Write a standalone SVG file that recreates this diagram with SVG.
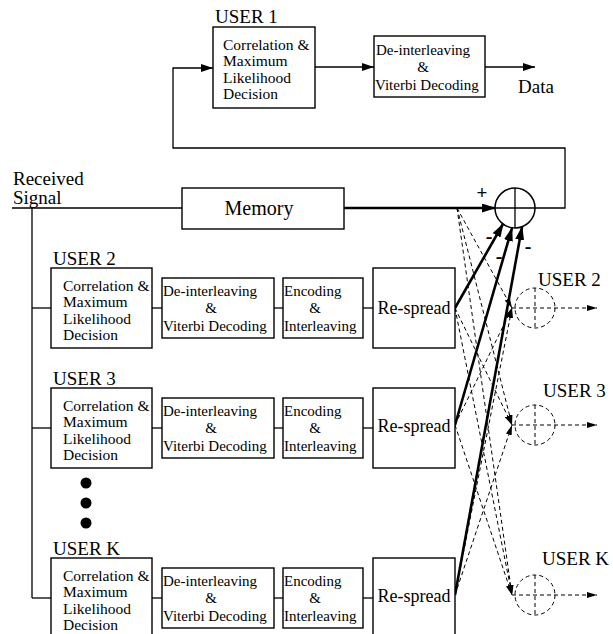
<svg xmlns="http://www.w3.org/2000/svg" width="613" height="634" viewBox="0 0 613 634">
<style>
text{font-family:"Liberation Serif","DejaVu Serif",serif;fill:#000}
.box{fill:#fff;stroke:#000;stroke-width:1.4}
.t{font-size:15.5px}
.s{font-size:15px}
.lbl{font-size:19px}
.mid{text-anchor:middle}
.ln{fill:none;stroke:#000;stroke-width:1.3}
.thk{fill:none;stroke:#000;stroke-width:2.6}
.dsh{fill:none;stroke:#000;stroke-width:1;stroke-dasharray:4 3}
.mn{font-size:20px;font-weight:bold;text-anchor:middle}
</style>
<defs>
<marker id="ah" markerUnits="userSpaceOnUse" markerWidth="12" markerHeight="8" refX="12" refY="4" orient="auto"><path d="M0,0 L12,4 L0,8 z"/></marker>
<marker id="ahk" markerUnits="userSpaceOnUse" markerWidth="14" markerHeight="9" refX="13" refY="4.5" orient="auto"><path d="M0,0 L14,4.5 L0,9 z"/></marker>
<marker id="ahd" markerUnits="userSpaceOnUse" markerWidth="10" markerHeight="6" refX="10" refY="3" orient="auto"><path d="M0,0 L10,3 L0,6 z"/></marker>
</defs>

<g id="connectors">
  <path class="ln" d="M535,208 H565 V148 H173 V68 H213" marker-end="url(#ah)"/>
  <line class="ln" x1="315" y1="67" x2="374" y2="67" marker-end="url(#ah)"/>
  <line class="ln" x1="485" y1="67" x2="535" y2="67" marker-end="url(#ah)"/>
  <line class="ln" x1="12" y1="208" x2="182" y2="208"/>
  <line class="ln" x1="32" y1="208" x2="32" y2="598"/>
  <line class="thk" x1="344" y1="208" x2="495" y2="208" marker-end="url(#ahk)"/>
  <line class="ln" x1="32" y1="308" x2="51" y2="308"/>
  <line class="ln" x1="152" y1="308" x2="162" y2="308"/>
  <line class="ln" x1="274" y1="308" x2="283" y2="308"/>
  <line class="ln" x1="363" y1="308" x2="373" y2="308"/>
  <line class="ln" x1="32" y1="428" x2="51" y2="428"/>
  <line class="ln" x1="152" y1="428" x2="162" y2="428"/>
  <line class="ln" x1="274" y1="428" x2="283" y2="428"/>
  <line class="ln" x1="363" y1="428" x2="373" y2="428"/>
  <line class="ln" x1="32" y1="598" x2="51" y2="598"/>
  <line class="ln" x1="152" y1="598" x2="162" y2="598"/>
  <line class="ln" x1="274" y1="598" x2="283" y2="598"/>
  <line class="ln" x1="363" y1="598" x2="373" y2="598"/>
  <line class="thk" x1="455" y1="308" x2="503" y2="224" marker-end="url(#ahk)"/>
  <line class="thk" x1="455" y1="425" x2="512" y2="228" marker-end="url(#ahk)"/>
  <line class="thk" x1="455" y1="595" x2="522" y2="227" marker-end="url(#ahk)"/>
  <line class="dsh" x1="457" y1="208" x2="512" y2="308" marker-end="url(#ahd)"/>
  <line class="dsh" x1="457" y1="208" x2="512" y2="425" marker-end="url(#ahd)"/>
  <line class="dsh" x1="457" y1="208" x2="512" y2="595" marker-end="url(#ahd)"/>
  <line class="dsh" x1="455" y1="308" x2="512" y2="425" marker-end="url(#ahd)"/>
  <line class="dsh" x1="455" y1="308" x2="512" y2="595" marker-end="url(#ahd)"/>
  <line class="dsh" x1="455" y1="425" x2="512" y2="308" marker-end="url(#ahd)"/>
  <line class="dsh" x1="455" y1="425" x2="512" y2="595" marker-end="url(#ahd)"/>
  <line class="dsh" x1="455" y1="595" x2="512" y2="308" marker-end="url(#ahd)"/>
  <line class="dsh" x1="455" y1="595" x2="512" y2="425" marker-end="url(#ahd)"/>
  <line class="dsh" x1="512" y1="308" x2="597" y2="308" marker-end="url(#ahd)"/>
  <line class="dsh" x1="512" y1="425" x2="597" y2="425" marker-end="url(#ahd)"/>
  <line class="dsh" x1="512" y1="595" x2="597" y2="595" marker-end="url(#ahd)"/>
</g>

<g id="input">
  <text class="lbl" x="13" y="185">Received</text>
  <text class="lbl" x="13" y="204">Signal</text>
</g>

<g id="user1-corr">
  <text class="lbl" x="215" y="23">USER 1</text>
  <rect class="box" x="213" y="27" width="102" height="81"/>
  <text class="t" x="223" y="50">Correlation &amp;</text>
  <text class="t" x="223" y="66">Maximum</text>
  <text class="t" x="223" y="83">Likelihood</text>
  <text class="t" x="223" y="99">Decision</text>
</g>
<g id="user1-deint">
  <rect class="box" x="374" y="36" width="111" height="61"/>
  <text class="s" x="376" y="55">De-interleaving</text>
  <text class="s mid" x="423" y="72">&amp;</text>
  <text class="s" x="375" y="90">Viterbi Decoding</text>
</g>
<g id="data"><text class="lbl" x="518" y="93">Data</text></g>

<g id="memory">
  <rect class="box" x="182" y="188" width="162" height="41"/>
  <text class="mid" style="font-size:20px" x="259" y="215">Memory</text>
</g>

<g id="summer">
  <circle cx="515" cy="208" r="20" fill="#fff" stroke="#000" stroke-width="1.5"/>
  <line class="ln" x1="495" y1="208" x2="535" y2="208"/>
  <line class="ln" x1="515" y1="188" x2="515" y2="228"/>
  <text class="mid" style="font-size:19px;font-weight:bold" x="482" y="199">+</text>
  <text class="mn" x="489" y="243">-</text>
  <text class="mn" x="499" y="263">-</text>
  <text class="mn" x="528" y="253">-</text>
</g>

<g id="user2">
  <text class="lbl" x="53" y="265">USER 2</text>
  <rect class="box" x="51" y="268" width="101" height="80"/>
  <text class="t" x="63" y="291">Correlation &amp;</text>
  <text class="t" x="63" y="307">Maximum</text>
  <text class="t" x="63" y="324">Likelihood</text>
  <text class="t" x="63" y="340">Decision</text>
  <rect class="box" x="162" y="278" width="112" height="60"/>
  <text class="s" x="163" y="296">De-interleaving</text>
  <text class="s mid" x="211" y="313">&amp;</text>
  <text class="s" x="163" y="331">Viterbi Decoding</text>
  <rect class="box" x="283" y="278" width="80" height="60"/>
  <text class="s" x="284" y="296">Encoding</text>
  <text class="s mid" x="315" y="313">&amp;</text>
  <text class="s" x="284" y="331">Interleaving</text>
  <rect class="box" x="373" y="268" width="82" height="80"/>
  <text class="mid" style="font-size:18px" x="414" y="314">Re-spread</text>
</g>

<g id="user3">
  <text class="lbl" x="53" y="385">USER 3</text>
  <rect class="box" x="51" y="388" width="101" height="80"/>
  <text class="t" x="63" y="411">Correlation &amp;</text>
  <text class="t" x="63" y="427">Maximum</text>
  <text class="t" x="63" y="444">Likelihood</text>
  <text class="t" x="63" y="460">Decision</text>
  <rect class="box" x="162" y="398" width="112" height="60"/>
  <text class="s" x="163" y="416">De-interleaving</text>
  <text class="s mid" x="211" y="433">&amp;</text>
  <text class="s" x="163" y="451">Viterbi Decoding</text>
  <rect class="box" x="283" y="398" width="80" height="60"/>
  <text class="s" x="284" y="416">Encoding</text>
  <text class="s mid" x="315" y="433">&amp;</text>
  <text class="s" x="284" y="451">Interleaving</text>
  <rect class="box" x="373" y="388" width="82" height="80"/>
  <text class="mid" style="font-size:18px" x="414" y="432">Re-spread</text>
</g>

<g id="ellipsis">
  <circle cx="86" cy="483" r="5.5"/>
  <circle cx="86" cy="503" r="5.5"/>
  <circle cx="86" cy="523" r="5.5"/>
</g>

<g id="userK">
  <text class="lbl" x="53" y="555">USER K</text>
  <rect class="box" x="51" y="558" width="101" height="80"/>
  <text class="t" x="63" y="581">Correlation &amp;</text>
  <text class="t" x="63" y="597">Maximum</text>
  <text class="t" x="63" y="614">Likelihood</text>
  <text class="t" x="63" y="630">Decision</text>
  <rect class="box" x="162" y="568" width="112" height="60"/>
  <text class="s" x="163" y="586">De-interleaving</text>
  <text class="s mid" x="211" y="603">&amp;</text>
  <text class="s" x="163" y="621">Viterbi Decoding</text>
  <rect class="box" x="283" y="568" width="80" height="60"/>
  <text class="s" x="284" y="586">Encoding</text>
  <text class="s mid" x="315" y="603">&amp;</text>
  <text class="s" x="284" y="621">Interleaving</text>
  <rect class="box" x="373" y="558" width="82" height="80"/>
  <text class="mid" style="font-size:18px" x="414" y="602">Re-spread</text>
</g>

<g id="user2-out">
  <circle cx="535" cy="308" r="20" class="dsh"/>
  <line class="dsh" x1="535" y1="288" x2="535" y2="328"/>
  <text class="lbl" x="538" y="286">USER 2</text>
</g>
<g id="user3-out">
  <circle cx="535" cy="425" r="20" class="dsh"/>
  <line class="dsh" x1="535" y1="405" x2="535" y2="445"/>
  <text class="lbl" x="543" y="397">USER 3</text>
</g>
<g id="userK-out">
  <circle cx="535" cy="595" r="20" class="dsh"/>
  <line class="dsh" x1="535" y1="575" x2="535" y2="615"/>
  <text class="lbl" x="542" y="565">USER K</text>
</g>
</svg>
